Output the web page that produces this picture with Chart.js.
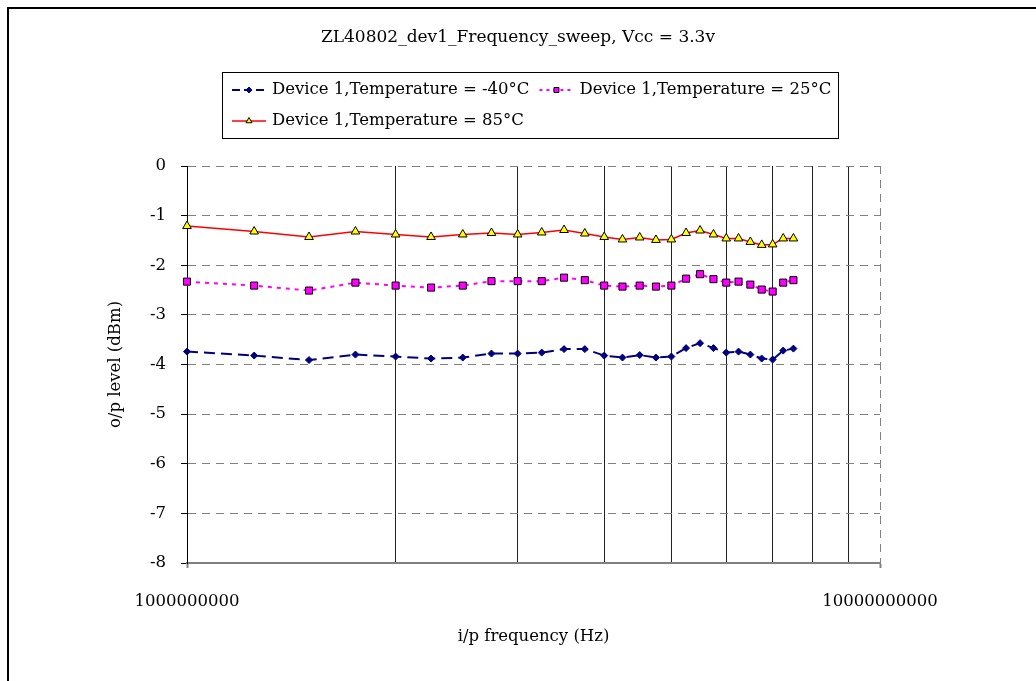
<!DOCTYPE html>
<html>
<head>
<meta charset="utf-8">
<script src="https://cdn.jsdelivr.net/npm/chart.js@4.4.0/dist/chart.umd.min.js"></script>
<style>
  html, body { margin: 0; padding: 0; background: #fff; }
  #wrap { width: 1036px; height: 681px; }
</style>
</head>
<body>
<div id="wrap"><canvas id="chart" width="1036" height="681"></canvas></div>
<script>
// data
const frequencies = [1.0e9, 1.25e9, 1.5e9, 1.75e9, 2.0e9, 2.25e9, 2.5e9, 2.75e9, 3.0e9,
  3.25e9, 3.5e9, 3.75e9, 4.0e9, 4.25e9, 4.5e9, 4.75e9, 5.0e9, 5.25e9, 5.5e9, 5.75e9,
  6.0e9, 6.25e9, 6.5e9, 6.75e9, 7.0e9, 7.25e9, 7.5e9];
const tempMinus40 = [-3.74, -3.82, -3.91, -3.80, -3.84, -3.88, -3.86, -3.78, -3.78,
  -3.76, -3.69, -3.69, -3.82, -3.86, -3.81, -3.86, -3.84, -3.67, -3.57, -3.67,
  -3.76, -3.74, -3.80, -3.88, -3.90, -3.72, -3.68];
const temp25 = [-2.33, -2.41, -2.51, -2.35, -2.41, -2.45, -2.41, -2.32, -2.32,
  -2.32, -2.25, -2.30, -2.41, -2.43, -2.41, -2.43, -2.41, -2.27, -2.18, -2.28,
  -2.35, -2.33, -2.39, -2.49, -2.53, -2.35, -2.30];
const temp85 = [-1.21, -1.32, -1.43, -1.32, -1.38, -1.43, -1.38, -1.35, -1.38,
  -1.34, -1.29, -1.36, -1.43, -1.48, -1.44, -1.49, -1.48, -1.35, -1.30, -1.38,
  -1.46, -1.46, -1.53, -1.59, -1.58, -1.46, -1.46];
const seriesLabels = ['Device 1,Temperature = -40°C', 'Device 1,Temperature = 25°C', 'Device 1,Temperature = 85°C'];
const xGridValues = [1e9, 2e9, 3e9, 4e9, 5e9, 6e9, 7e9, 8e9, 9e9, 1e10];
const labelledXTicks = [1e9, 1e10];
const chartTitle = 'ZL40802_dev1_Frequency_sweep, Vcc = 3.3v';

const serif = '"DejaVu Serif", "Liberation Serif", serif';
const fontSize = 16.5;

function toPoints(values) {
  return values.map((v, i) => ({ x: frequencies[i], y: v }));
}

// frame, title and the boxed legend
const decorations = {
  id: 'decorations',
  afterDraw(chart) {
    const ctx = chart.ctx;
    ctx.save();
    // frame (top and left only)
    ctx.strokeStyle = '#000';
    ctx.lineWidth = 2;
    ctx.beginPath();
    ctx.moveTo(8, 681);
    ctx.lineTo(8, 8);
    ctx.lineTo(1036, 8);
    ctx.stroke();

    // title
    ctx.fillStyle = '#000';
    ctx.font = '17px ' + serif;
    ctx.textAlign = 'center';
    ctx.textBaseline = 'middle';
    ctx.fillText(chartTitle, 518, 38);

    // legend box
    ctx.strokeStyle = '#000';
    ctx.lineWidth = 1;
    ctx.strokeRect(222.5, 72.5, 616, 66);

    ctx.font = fontSize + 'px ' + serif;
    ctx.textAlign = 'left';
    const rows = [[0, 1], [2]];
    const rowY = [90, 121];
    rows.forEach((row, r) => {
      let x = 232;
      const y = rowY[r];
      row.forEach(i => {
        const ds = chart.data.datasets[i];
        ctx.strokeStyle = ds.borderColor;
        ctx.lineWidth = ds.borderWidth;
        ctx.setLineDash(ds.legendDash);
        ctx.beginPath();
        ctx.moveTo(x, y);
        ctx.lineTo(x + 34, y);
        ctx.stroke();
        ctx.setLineDash([]);
        ctx.fillStyle = ds.pointBackgroundColor;
        ctx.strokeStyle = ds.pointBorderColor;
        ctx.lineWidth = 1;
        Chart.helpers.drawPoint(ctx, { pointStyle: ds.pointStyle, radius: ds.legendRadius, rotation: 0, borderWidth: 1 }, x + 17, y);
        ctx.fillStyle = '#000';
        ctx.fillText(ds.label, x + 40, y);
        x += 40 + ctx.measureText(ds.label).width + 10;
      });
    });
    ctx.restore();
  }
};

const chart = new Chart(document.getElementById('chart'), {
  type: 'line',
  data: {
    datasets: [
      {
        label: seriesLabels[0],
        data: toPoints(tempMinus40),
        borderColor: '#000080',
        borderWidth: 2,
        borderDash: [11, 6],
        legendDash: [8, 4],
        pointStyle: 'rectRot',
        pointRadius: 3.5,
        legendRadius: 3,
        pointBackgroundColor: '#000080',
        pointBorderColor: '#000080',
        pointBorderWidth: 1,
        tension: 0,
        clip: false
      },
      {
        label: seriesLabels[1],
        data: toPoints(temp25),
        borderColor: '#ff00ff',
        borderWidth: 2,
        borderDash: [4, 5],
        legendDash: [3, 4],
        pointStyle: 'rect',
        pointRadius: 5,
        legendRadius: 3.5,
        pointBackgroundColor: '#ff00ff',
        pointBorderColor: '#000',
        pointBorderWidth: 1,
        tension: 0,
        clip: false
      },
      {
        label: seriesLabels[2],
        data: toPoints(temp85),
        borderColor: '#ff0000',
        borderWidth: 1.5,
        borderDash: [],
        legendDash: [],
        pointStyle: 'triangle',
        pointRadius: 5,
        legendRadius: 3.5,
        pointBackgroundColor: '#ffff00',
        pointBorderColor: '#000',
        pointBorderWidth: 1,
        tension: 0,
        clip: false
      }
    ]
  },
  options: {
    responsive: false,
    animation: false,
    layout: { padding: { top: 166, right: 156, left: 0, bottom: 0 } },
    plugins: {
      legend: { display: false },
      title: { display: false },
      tooltip: { enabled: false }
    },
    scales: {
      x: {
        type: 'logarithmic',
        min: 1e9,
        max: 1e10,
        afterBuildTicks(scale) {
          scale.ticks = xGridValues.map(v => ({ value: v }));
        },
        afterFit(scale) { scale.height = 118; },
        ticks: {
          autoSkip: false,
          maxRotation: 0,
          padding: 24,
          color: '#000',
          font: { family: serif, size: fontSize },
          callback: (value) => labelledXTicks.includes(value) ? String(value) : ''
        },
        grid: {
          color: (c) => (c.tick && c.tick.value === 1e10) ? '#808080' : '#222',
          lineWidth: 1,
          tickLength: 5,
          tickColor: (c) => (c.tick && labelledXTicks.includes(c.tick.value)) ? '#808080' : 'rgba(0,0,0,0)',
          tickWidth: 2
        },
        border: {
          color: '#808080',
          width: 2,
          dash: (c) => (c.tick && c.tick.value === 1e10) ? [8, 6] : []
        },
        title: {
          display: true,
          text: 'i/p frequency (Hz)',
          color: '#000',
          font: { family: serif, size: fontSize },
          padding: { top: 0, bottom: 34 }
        }
      },
      y: {
        min: -8,
        max: 0,
        afterFit(scale) { scale.width = 187; },
        ticks: {
          stepSize: 1,
          padding: 15,
          color: '#000',
          font: { family: serif, size: fontSize }
        },
        grid: {
          color: '#808080',
          lineWidth: 1,
          tickLength: 6,
          tickColor: '#000'
        },
        border: {
          color: '#000',
          width: 1,
          dash: [8, 6]
        },
        title: {
          display: true,
          text: 'o/p level (dBm)',
          color: '#000',
          font: { family: serif, size: fontSize },
          padding: { top: 106, bottom: 0 }
        }
      }
    }
  },
  plugins: [decorations]
});
</script>
</body>
</html>
